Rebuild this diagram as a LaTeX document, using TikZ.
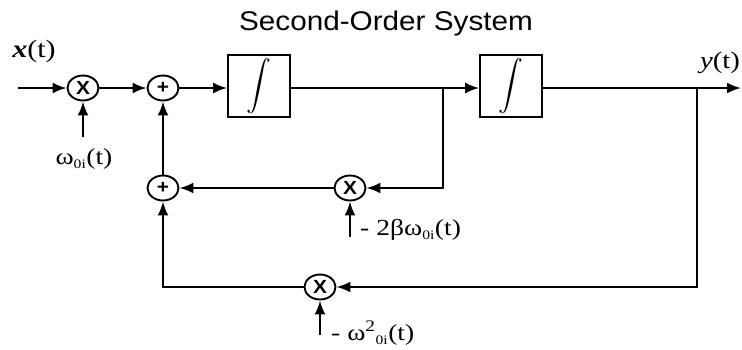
\documentclass[tikz,border=0pt]{standalone}
\usepackage{exscale}
\usepackage{fontspec}
\setmainfont{Liberation Serif}
\newfontfamily\labelfont[FakeStretch=1.2]{Liberation Serif}
\newfontfamily\titlefont[FakeStretch=1.1]{Liberation Sans}
\usetikzlibrary{arrows.meta,positioning,shapes.geometric}
\tikzset{
  sigflow/.style={-{Latex[length=14pt,width=11pt]},line width=2.2pt},
  junction/.style={ellipse,draw,line width=1.9pt,minimum width=31pt,minimum height=25pt,inner sep=0pt,
    font=\titlefont\bfseries\fontsize{19}{19}\selectfont},
  intbox/.style={draw,line width=1.7pt,minimum width=62pt,minimum height=62pt,inner sep=0pt,
    font=\fontsize{23}{23}\selectfont},
  siglabel/.style={inner sep=0pt,font=\labelfont\fontsize{23}{25}\selectfont},
}
\newcommand{\lowsub}[1]{\textsubscript{\fontsize{13}{13}\selectfont #1}}

\begin{document}
\begin{tikzpicture}[x=1pt,y=1pt]
        \useasboundingbox (0,0) rectangle (742,-349);
        \node[font=\titlefont\fontsize{27}{30}\selectfont,anchor=base] (title) at (386,-30) {Second-Order System};
        % forward path
        \coordinate (in) at (18,-88);
        \node[junction] (m1) at (83,-88) {X};
        \node[junction] (s1) at (163,-88) {+};
        \node[intbox] (int1) at (259,-86) {$\displaystyle\int$};
        \coordinate (tap1) at (443,-88);
        \node[intbox] (int2) at (511,-86) {$\displaystyle\int$};
        \coordinate (tap2) at (697,-88);
        \coordinate (out) at (741,-88);
        % feedback path
        \node[junction] (s2) at (163,-188) {+};
        \node[junction] (m2) at (350,-188) {X};
        \node[junction] (m3) at (320,-287) {X};
        \coordinate (g1) at (83,-137);
        \coordinate (g2) at (350,-237);
        \coordinate (g3) at (320,-335);
        % labels
        \node[siglabel,font=\labelfont\fontsize{25}{27}\selectfont] (xlab) at (34,-51) {\textbf{\textit{x}}(t)};
        \node[siglabel,font=\labelfont\fontsize{24}{26}\selectfont] (ylab) at (720,-63) {\textit{y}(t)};
        \node[siglabel] (w1) at (84,-159) {ω\lowsub{0i}(t)};
        \node[siglabel,anchor=west] (w2) at (360,-230) {- 2βω\lowsub{0i}(t)};
        \node[siglabel,anchor=west] (w3) at (331,-333) {- ω\textsuperscript{2}\lowsub{0i}(t)};
        \draw[sigflow] (in) -- (m1);
        \draw[sigflow] (m1) -- (s1);
        \draw[sigflow] (s1) -- (int1.west |- s1);
        \draw[sigflow] (int1.east |- tap1) -- (int2.west |- tap1);
        \draw[sigflow] (int2.east |- tap2) -- (out);
        \draw[sigflow] (tap1) |- (m2);
        \draw[sigflow] (m2) -- (s2);
        \draw[sigflow] (s2) -- (s1);
        \draw[sigflow] (tap2) |- (m3);
        \draw[sigflow] (m3) -| (s2);
        \draw[sigflow] (g1) -- (m1);
        \draw[sigflow] (g2) -- (m2);
        \draw[sigflow] (g3) -- (m3);
      \end{tikzpicture}
\end{document}
